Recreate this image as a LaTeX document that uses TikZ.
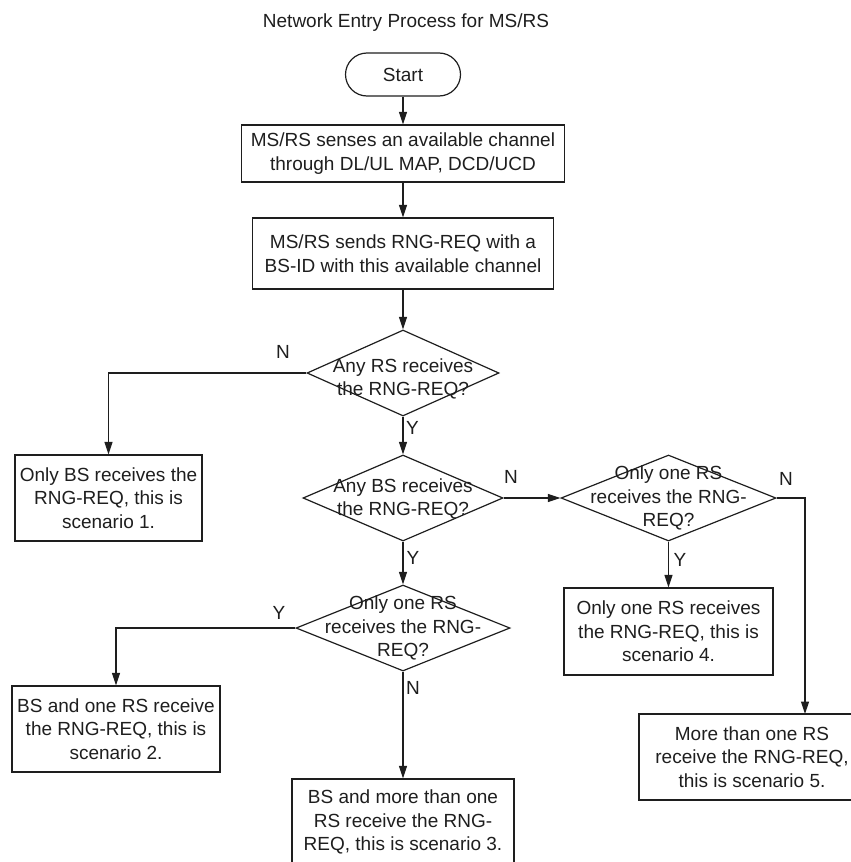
\documentclass[tikz,border=0pt]{standalone}
\usepackage{fontspec}
\setmainfont{Liberation Sans}
\usetikzlibrary{shapes.geometric,arrows.meta}
\definecolor{ink}{RGB}{30,30,30}
\begin{document}
\begin{tikzpicture}[x=1pt,y=-1pt,
  every node/.style={font=\fontsize{19}{23.5}\selectfont, text=ink},
  box/.style={draw=ink, line width=1.2pt, rectangle, inner sep=0pt, align=center},
  terminal/.style={box, rounded corners=21.5pt},
  decision/.style={draw=ink, line width=1.2pt, diamond, inner sep=0pt},
  dtext/.style={align=center, inner sep=0pt},
  flow/.style={draw=ink, line width=1.2pt, -{Triangle[length=12.5pt,width=8pt]}},
  tag/.style={inner sep=0pt}
]
\useasboundingbox (0,0) rectangle (851,862);

% title
\node[tag, anchor=base] (title) at (406,27.5) {Network Entry Process for MS/RS};

% main column
\node[terminal, minimum width=115pt, minimum height=43pt] (start) at (403,74.5) {Start};
\node[box, minimum width=323pt, minimum height=57pt] (b1) at (403,153.5)
  {MS/RS senses an available channel\\through DL/UL MAP, DCD/UCD};
\node[box, minimum width=301pt, minimum height=71pt] (b2) at (403,253.5)
  {MS/RS sends RNG-REQ with a\\BS-ID with this available channel};

% decisions
\node[decision, minimum width=192pt, minimum height=86pt,
  label={[dtext, yshift=-6pt]center:{Any RS receives\\the RNG-REQ?}}] (d1) at (403,373) {};
\node[decision, minimum width=200pt, minimum height=86pt,
  label={[dtext, yshift=-1pt]center:{Any BS receives\\the RNG-REQ?}}] (d2) at (403,498) {};
\node[decision, minimum width=215pt, minimum height=86pt,
  label={[dtext]center:{Only one RS\\receives the RNG-\\REQ?}}] (d3) at (668.5,498) {};
\node[decision, minimum width=214pt, minimum height=86pt,
  label={[dtext]center:{Only one RS\\receives the RNG-\\REQ?}}] (d4) at (403,628) {};

% outcomes
\node[box, minimum width=187pt, minimum height=86pt] (s1) at (108.5,498)
  {Only BS receives the\\RNG-REQ, this is\\scenario 1.};
\node[box, minimum width=208pt, minimum height=86pt] (s2) at (116,729)
  {BS and one RS receive\\the RNG-REQ, this is\\scenario 2.};
\node[box, minimum width=222pt, minimum height=86pt] (s3) at (403,822)
  {BS and more than one\\RS receive the RNG-\\REQ, this is scenario 3.};
\node[box, minimum width=209pt, minimum height=87pt] (s4) at (668.5,631.5)
  {Only one RS receives\\the RNG-REQ, this is\\scenario 4.};
\node[box, minimum width=226pt, minimum height=86pt] (s5) at (752,757)
  {More than one RS\\receive the RNG-REQ,\\this is scenario 5.};
\coordinate (s5in) at (805,714);

% connectors
\draw[flow] (start) -- (b1);
\draw[flow] (b1) -- (b2);
\draw[flow] (b2) -- (d1);
\draw[flow] (d1.west) -| (s1.north);
\draw[flow] (d1.south) -- (d2.north);
\draw[flow] (d2.east) -- (d3.west);
\draw[flow] (d2.south) -- (d4.north);
\draw[flow] (d3.south) -- (s4.north);
\draw[flow] (d3.east) -| (s5in);
\draw[flow] (d4.west) -| (s2.north);
\draw[flow] (d4.south) -- (s3.north);

% branch labels
\node[tag] (n1) at (283,352) {N};
\node[tag] (y1) at (412.5,428) {Y};
\node[tag] (n2) at (511,477) {N};
\node[tag] (y2) at (413,558) {Y};
\node[tag] (y3) at (680,560) {Y};
\node[tag] (n3) at (786,479) {N};
\node[tag] (y4) at (279,613) {Y};
\node[tag] (n4) at (413,688) {N};
\end{tikzpicture}
\end{document}
